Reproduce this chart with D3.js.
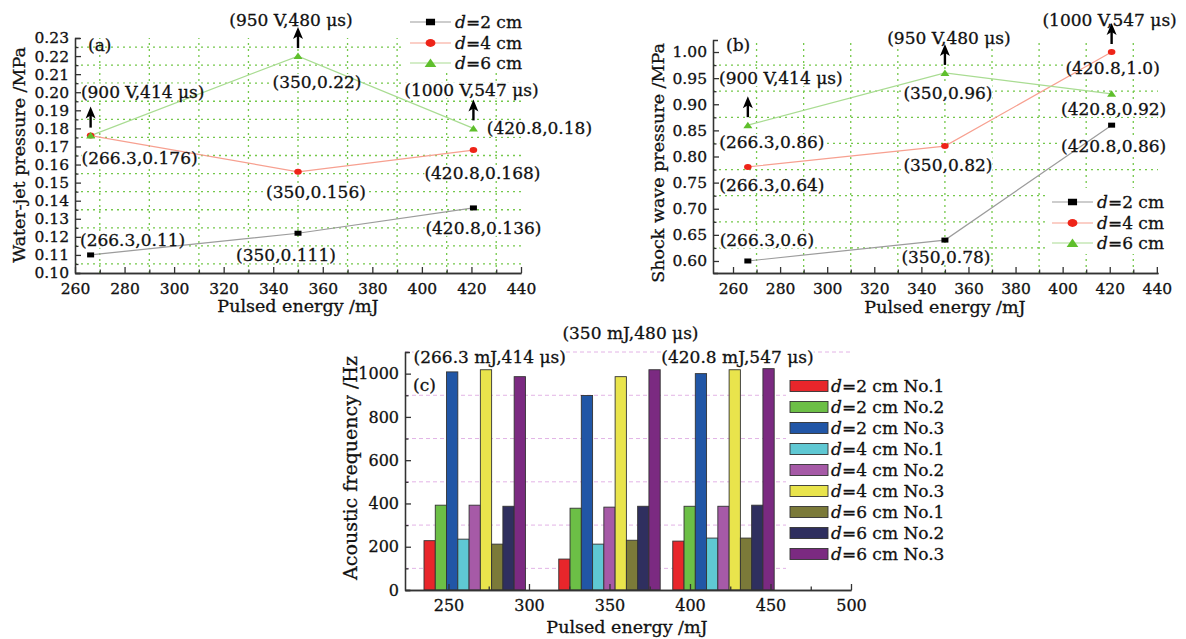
<!DOCTYPE html>
<meta charset="utf-8">
<style>
body { margin: 0; background: #fff; }
svg { font-family: "DejaVu Serif", serif; }
svg text { stroke: #111; stroke-width: 0.3px; }
.axis path, .axis line { stroke: #333; stroke-width: 1.3px; }
.axis text { font-family: "DejaVu Serif", serif; font-size: 15.5px; fill: #111; }
.axisc text { font-size: 16px; }
.grid-g line { stroke: #74c84a; stroke-width: 1.3px; stroke-dasharray: 2,4; }
.grid-p line { stroke: #e3b4e6; stroke-width: 1px; stroke-dasharray: 4,3; }
.title { font-size: 17.5px; fill: #111; }
.note { font-size: 17px; fill: #111; }
.leg { font-size: 17px; fill: #111; }
</style>
<body>
<svg id="chart" width="1186" height="639"></svg>
<script src="https://d3js.org/d3.v7.min.js"></script>
<script>
// ---------------- data ----------------
var energy = [266.3, 350, 420.8];
var lineNames = ["d=2 cm", "d=4 cm", "d=6 cm"];

// (a) water-jet pressure, MPa
var jetD2 = [0.110, 0.122, 0.136];
var jetD4 = [0.176, 0.156, 0.168];
var jetD6 = [0.176, 0.220, 0.180];
var jetTextD2 = ["(266.3,0.11)", "(350,0.111)", "(420.8,0.136)"];
var jetTextD4 = ["(266.3,0.176)", "(350,0.156)", "(420.8,0.168)"];
var jetTextD6 = [null, "(350,0.22)", "(420.8,0.18)"];

// (b) shock wave pressure, MPa
var shockD2 = [0.60, 0.64, 0.86];
var shockD4 = [0.78, 0.82, 1.00];
var shockD6 = [0.86, 0.96, 0.92];
var shockTextD2 = ["(266.3,0.6)", "(350,0.78)", "(420.8,0.86)"];
var shockTextD4 = ["(266.3,0.64)", "(350,0.82)", "(420.8,1.0)"];
var shockTextD6 = ["(266.3,0.86)", "(350,0.96)", "(420.8,0.92)"];

var voltText = ["(900 V,414 \u03bcs)", "(950 V,480 \u03bcs)", "(1000 V,547 \u03bcs)"];

// (c) acoustic frequency, Hz
var freqNames = ["d=2 cm No.1", "d=2 cm No.2", "d=2 cm No.3",
                 "d=4 cm No.1", "d=4 cm No.2", "d=4 cm No.3",
                 "d=6 cm No.1", "d=6 cm No.2", "d=6 cm No.3"];
var freqValues = [
  [228, 143, 226],
  [392, 378, 387],
  [1008, 899, 1000],
  [235, 212, 240],
  [392, 383, 387],
  [1018, 986, 1018],
  [212, 230, 240],
  [387, 387, 392],
  [986, 1018, 1023]
];
var freqText = ["(266.3 mJ,414 \u03bcs)", "(350 mJ,480 \u03bcs)", "(420.8 mJ,547 \u03bcs)"];

// ---------------- styles ----------------
var lineColor = ["#9c9c9c", "#f7a090", "#a9dc92"];
var markColor = ["#000000", "#ee2418", "#5fbf2c"];
var barColor = ["#e8262b", "#6cbf46", "#2156a6", "#5fc8d3", "#a65aa7",
                "#e9e44c", "#7b7a39", "#2f2f5f", "#7b2a81"];

var svg = d3.select("#chart");

function dLabel(sel, name) {
  sel.append("tspan").style("font-style", "italic").text(name.slice(0, 1));
  sel.append("tspan").text(name.slice(1));
}

function marker(g, k, x, y, big) {
  var s = big ? 1.3 : 1;
  if (k === 0) {
    g.append("rect").attr("x", x - 3.5 * s).attr("y", y - 2.5 * s)
      .attr("width", 7 * s).attr("height", 5 * s).attr("fill", markColor[0]);
  } else if (k === 1) {
    g.append("ellipse").attr("cx", x).attr("cy", y).attr("rx", 3.8 * s).attr("ry", 3 * s)
      .attr("fill", markColor[1]);
  } else {
    g.append("path").attr("d", "M" + x + "," + (y - 3.5 * s) + "L" + (x + 4.5 * s) + "," + (y + 3 * s) +
      "L" + (x - 4.5 * s) + "," + (y + 3 * s) + "Z").attr("fill", markColor[2]);
  }
}

function arrow(g, x, yTop, yBot) {
  g.append("line").attr("x1", x).attr("x2", x).attr("y1", yBot).attr("y2", yTop + 8)
    .attr("stroke", "#000").attr("stroke-width", 2.4);
  g.append("path").attr("d", "M" + x + "," + yTop + "L" + (x - 5) + "," + (yTop + 12) +
    "L" + x + "," + (yTop + 9) + "L" + (x + 5) + "," + (yTop + 12) + "Z").attr("fill", "#000");
}

function note(g, bg, x, y, text, anchor) {
  var t = g.append("text").attr("class", "note").attr("x", x).attr("y", y)
    .attr("dy", "0.35em").attr("text-anchor", anchor || "middle").text(text);
  var b = t.node().getBBox();
  bg.append("rect").attr("x", b.x).attr("y", b.y + 2).attr("width", b.width)
    .attr("height", b.height - 4).attr("fill", "#fff");
}

// ---------------- line panels (a), (b) ----------------
function linePanel(cfg) {
  var x = d3.scaleLinear().domain(cfg.xDom).range(cfg.xRange);
  var y = d3.scaleLinear().domain(cfg.yDom).range(cfg.yRange);
  var gGrid = svg.append("g").attr("class", "grid-g");
  var gBg = svg.append("g");
  var gAxis = svg.append("g");
  var gSeries = svg.append("g");
  var gText = svg.append("g");

  gGrid.selectAll("line.v").data(cfg.xGrid).join("line").attr("class", "v")
    .attr("x1", x).attr("x2", x).attr("y1", y.range()[0]).attr("y2", y.range()[1]);
  gGrid.selectAll("line.h").data(cfg.yGrid).join("line").attr("class", "h")
    .attr("y1", y).attr("y2", y).attr("x1", x.range()[0]).attr("x2", x.range()[1]);

  // axes
  var yb = y.range()[0], xl = x.range()[0];
  gAxis.append("g").attr("class", "axis").attr("transform", "translate(0," + yb + ")")
    .call(d3.axisBottom(x).tickValues(cfg.xTicks).tickSize(-6).tickSizeOuter(0).tickPadding(10).tickFormat(d3.format("d")));
  gAxis.append("g").attr("class", "axis").attr("transform", "translate(0," + yb + ")")
    .call(d3.axisBottom(x).tickValues(cfg.xMinor).tickSize(-3.5).tickSizeOuter(0).tickFormat(""));
  gAxis.append("g").attr("class", "axis").attr("transform", "translate(" + xl + ",0)")
    .call(d3.axisLeft(y).tickValues(cfg.yTicks).tickSize(-6).tickSizeOuter(-5).tickPadding(6).tickFormat(d3.format(".2f")));
  gAxis.append("g").attr("class", "axis").attr("transform", "translate(" + xl + ",0)")
    .call(d3.axisLeft(y).tickValues(cfg.yMinor).tickSize(-3.5).tickSizeOuter(0).tickFormat(""));

  // legend background
  gBg.append("rect").attr("x", cfg.legBox[0]).attr("y", cfg.legBox[1])
    .attr("width", cfg.legBox[2]).attr("height", cfg.legBox[3]).attr("fill", "#fff");

  // series
  var line = d3.line().x(function (d, i) { return x(energy[i]); }).y(function (d) { return y(d); });
  cfg.series.forEach(function (vals, k) {
    gSeries.append("path").attr("d", line(vals)).attr("fill", "none")
      .attr("stroke", lineColor[k]).attr("stroke-width", 1.2);
  });
  cfg.series.forEach(function (vals, k) {
    vals.forEach(function (v, i) { marker(gSeries, k, x(energy[i]), y(v), false); });
  });

  // point labels
  cfg.texts.forEach(function (arr, k) {
    arr.forEach(function (t, i) {
      if (!t) return;
      var o = cfg.offsets[k][i];
      note(gText, gBg, x(energy[i]) + o[0], y(cfg.series[k][i]) + o[1], t);
    });
  });

  // voltage annotations with arrows
  voltText.forEach(function (t, i) {
    var r = cfg.voltRef[i];
    var px = x(energy[i]), py = y(cfg.series[r[0]][i]);
    note(gText, gBg, px + r[1], py + r[2], t);
    arrow(gText, px, py - 29, py - 8);
  });

  // legend
  lineNames.forEach(function (n, k) {
    var ly = cfg.legY[k], lx = cfg.legX;
    gText.append("line").attr("x1", lx).attr("x2", lx + 41).attr("y1", ly).attr("y2", ly)
      .attr("stroke", lineColor[k]).attr("stroke-width", 1.2);
    marker(gText, k, lx + 20.5, ly, true);
    var t = gText.append("text").attr("class", "leg").attr("x", lx + 45).attr("y", ly).attr("dy", "0.35em");
    dLabel(t, n);
  });

  gText.append("text").attr("class", "note").attr("x", cfg.tag[0]).attr("y", cfg.tag[1])
    .attr("dy", "0.35em").text(cfg.tag[2]);

  // axis titles
  gText.append("text").attr("class", "title").attr("text-anchor", "middle")
    .attr("x", cfg.xTitle[0]).attr("y", cfg.xTitle[1]).attr("dy", "0.35em").text("Pulsed energy /mJ");
  gText.append("text").attr("class", "title").attr("text-anchor", "middle")
    .attr("transform", "translate(" + cfg.yTitle[0] + "," + cfg.yTitle[1] + ") rotate(-90)")
    .attr("dy", "0.35em").text(cfg.yTitle[2]);
}

linePanel({
  xDom: [260, 440], xRange: [75, 521],
  yDom: [0.10, 0.23], yRange: [273, 38],
  xTicks: d3.range(260, 441, 20), xMinor: d3.range(270, 440, 20),
  yTicks: d3.range(10, 24).map(function (v) { return v / 100; }),
  yMinor: d3.range(10.5, 23, 1).map(function (v) { return v / 100; }),
  xGrid: d3.range(270, 440, 20),
  yGrid: d3.range(10.5, 23, 1).map(function (v) { return v / 100; }),
  series: [jetD2, jetD4, jetD6],
  texts: [jetTextD2, jetTextD4, jetTextD6],
  offsets: [[[42, -15], [-12, 22], [10, 20]],
            [[49, 22], [18, 20], [9, 23]],
            [null, [19, 26], [66, 0]]],
  voltRef: [[2, 52, -44], [2, -7, -36], [2, -2, -38]],
  legBox: [404, 8, 125, 64], legX: 410, legY: [22, 43, 63],
  tag: [88, 45, "(a)"],
  xTitle: [298, 306],
  yTitle: [19, 155, "Water-jet pressure /MPa"]
});

linePanel({
  xDom: [251.5, 440.5], xRange: [713, 1158],
  yDom: [0.577, 1.023], yRange: [273, 40],
  xTicks: d3.range(260, 441, 20), xMinor: d3.range(270, 440, 20),
  yTicks: d3.range(60, 101, 5).map(function (v) { return v / 100; }),
  yMinor: d3.range(62.5, 100, 5).map(function (v) { return v / 100; }),
  xGrid: d3.range(270, 440, 20),
  yGrid: d3.range(62.5, 100, 5).map(function (v) { return v / 100; }),
  series: [shockD2, shockD4, shockD6],
  texts: [shockTextD2, shockTextD4, shockTextD6],
  offsets: [[[19, -21], [1, 17], [2, 21]],
            [[24, 18], [3, 19], [1, 16]],
            [[24, 17], [3, 20], [2, 15]]],
  voltRef: [[2, 33, -47], [2, 4, -35], [1, -2, -32]],
  legBox: [1045, 188, 128, 66], legX: 1052, legY: [202, 223, 243],
  tag: [726, 45, "(b)"],
  xTitle: [945, 307],
  yTitle: [658, 163, "Shock wave pressure /MPa"]
});

// ---------------- bar panel (c) ----------------
(function () {
  var barW = 7;
  var x = d3.scaleLinear().domain([223, 500]).range([405, 851]);
  var y = d3.scaleLinear().domain([0, 1100]).range([590, 352]);
  var gGrid = svg.append("g").attr("class", "grid-p");
  var gBg = svg.append("g");
  var gBars = svg.append("g");
  var gAxis = svg.append("g");
  var gText = svg.append("g");

  gGrid.selectAll("line").data(d3.range(100, 1101, 200)).join("line")
    .attr("x1", x.range()[0]).attr("x2", x.range()[1]).attr("y1", y).attr("y2", y);

  freqValues.forEach(function (vals, s) {
    gBars.selectAll("rect.s" + s).data(vals).join("rect").attr("class", "s" + s)
      .attr("x", function (d, i) { return x(energy[i] + (s - 4.5) * barW); })
      .attr("width", x(barW) - x(0))
      .attr("y", function (d) { return y(d); })
      .attr("height", function (d) { return y(0) - y(d); })
      .attr("fill", barColor[s]).attr("stroke", "#333").attr("stroke-width", 0.9);
  });

  gAxis.append("g").attr("class", "axis axisc").attr("transform", "translate(0,590)")
    .call(d3.axisBottom(x).tickValues(d3.range(250, 501, 50)).tickSize(-6).tickSizeOuter(0).tickPadding(10).tickFormat(d3.format("d")));
  gAxis.append("g").attr("class", "axis").attr("transform", "translate(0,590)")
    .call(d3.axisBottom(x).tickValues(d3.range(275, 500, 50)).tickSize(-3.5).tickSizeOuter(0).tickFormat(""));
  gAxis.append("g").attr("class", "axis axisc").attr("transform", "translate(405,0)")
    .call(d3.axisLeft(y).tickValues(d3.range(0, 1001, 200)).tickSize(-6).tickSizeOuter(-5).tickPadding(6).tickFormat(d3.format("d")));
  gAxis.append("g").attr("class", "axis").attr("transform", "translate(405,0)")
    .call(d3.axisLeft(y).tickValues(d3.range(100, 1101, 200)).tickSize(-3.5).tickSizeOuter(0).tickFormat(""));

  // annotations above groups
  var ann = [[15, 357], [21, 333], [14, 357]];
  freqText.forEach(function (t, i) {
    note(gText, gBg, x(energy[i]) + ann[i][0], ann[i][1], t);
  });
  gText.append("text").attr("class", "note").attr("x", 413).attr("y", 385).attr("dy", "0.35em").text("(c)");

  // legend
  gBg.append("rect").attr("x", 786).attr("y", 374).attr("width", 195).attr("height", 196).attr("fill", "#fff");
  freqNames.forEach(function (n, s) {
    var ly = 386 + s * 21;
    gText.append("rect").attr("x", 790).attr("y", ly - 5.5).attr("width", 38).attr("height", 11)
      .attr("fill", barColor[s]).attr("stroke", "#333").attr("stroke-width", 0.9);
    var t = gText.append("text").attr("class", "leg").attr("x", 831).attr("y", ly).attr("dy", "0.35em");
    dLabel(t, n);
  });

  gText.append("text").attr("class", "title").attr("text-anchor", "middle")
    .attr("x", 627).attr("y", 627).attr("dy", "0.35em").text("Pulsed energy /mJ");
  gText.append("text").attr("class", "title").attr("text-anchor", "middle").style("font-size", "19px")
    .attr("transform", "translate(350,468) rotate(-90)").attr("dy", "0.35em").text("Acoustic frequency /Hz");
})();
</script>
</body>
